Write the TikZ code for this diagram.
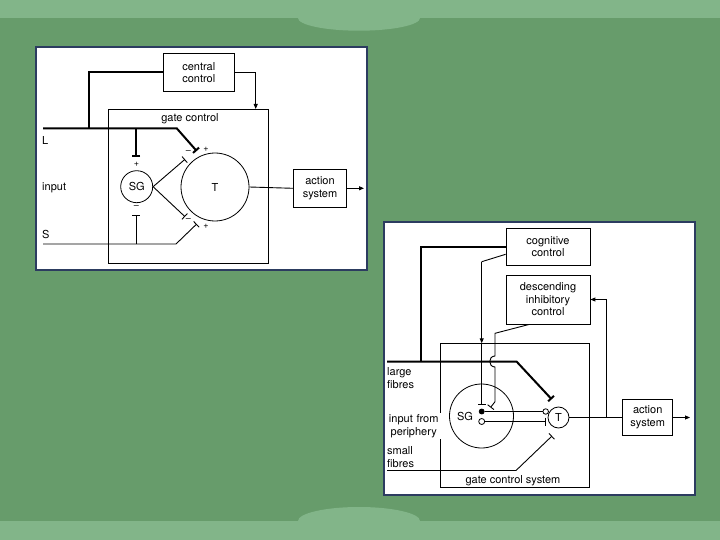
\documentclass[tikz,border=0pt]{standalone}
\usepackage{fontspec}
\setmainfont{TeX Gyre Heros}
\usetikzlibrary{arrows.meta,calc,positioning}
\definecolor{slidegreen}{RGB}{103,156,107}
\definecolor{bandgreen}{RGB}{130,181,137}
\definecolor{framenavy}{RGB}{44,60,96}

\begin{document}
\begin{tikzpicture}[x=1pt,y=-1pt,
    every node/.style={font=\fontsize{11}{12.5}\selectfont},
    box/.style={draw,line width=0.8pt,align=center,inner sep=0pt},
    ring/.style={draw,circle,line width=0.8pt,inner sep=0pt},
    thin line/.style={line width=0.9pt},
    thick line/.style={line width=2pt},
    inhib/.style={-{Bar[width=8pt]}},
    excite/.style={-{Triangle[length=5pt,width=4pt]}},
    sign/.style={font=\fontsize{9}{9}\selectfont,inner sep=0pt},
    label text/.style={align=left,anchor=west,inner sep=0pt}]
    % slide background
    \fill[slidegreen] (0,0) rectangle (720,540);
    \fill[bandgreen] (0,0) rectangle (720,18);
    \fill[bandgreen] (359,18) ellipse [x radius=61, y radius=12.7];
    \fill[bandgreen] (0,521) rectangle (720,540);
    \fill[bandgreen] (359,521) ellipse [x radius=61, y radius=14];
    \useasboundingbox (0,0) rectangle (720,540);
    % the two white panels
    \draw[framenavy,line width=2.5pt,fill=white] (36,47) rectangle (367,270);
    \draw[framenavy,line width=2.5pt,fill=white] (384,222) rectangle (695,495);

    % ---- first panel: gate control ----
    \node[box,minimum width=71pt,minimum height=38pt] (cc) at (198.8,72.5) {central\\control};
    \node[box,minimum width=160pt,minimum height=154pt] (gc) at (188.5,186) {};
    \node[inner sep=0pt] (gctitle) at (190,118.7) {gate control};
    \node[ring,minimum size=32pt] (sg) at (136.7,186.7) {SG};
    \node[ring,minimum size=68pt] (t) at (215,187) {T};
    \node[box,minimum width=53pt,minimum height=38pt] (as) at (320,188.3) {action\\system};
    % free ends of the fibres
    \coordinate (lin) at (43,128.3);
    \coordinate (lbend) at (176.7,128.3);
    \coordinate (lend) at (196.7,151);
    \coordinate (lup) at (89,128.3);
    \coordinate (ldown) at (136,128.3);
    \coordinate (ldownend) at (136,157);
    \coordinate (sin) at (43,244);
    \coordinate (sbend) at (176,244);
    \coordinate (send) at (196.7,224);
    \coordinate (sgfoot) at (136,244);
    \coordinate (sgfootend) at (136,215);
    \coordinate (sgtop) at (185,159.3);
    \coordinate (sgbot) at (185,216.7);
    \coordinate (gcin) at (255.7,109);
    \coordinate (asout) at (364,188.3);
    \draw[thick line,inhib] (lin) -- (lbend) -- (lend);
    \draw[thick line] (lup) |- (cc.west);
    \draw[thick line,inhib] (ldown) -- (ldownend);
    \draw[thin line,excite] (cc.east) -| (gcin);
    \draw[thin line,inhib] (sin) -- (sbend) -- (send);
    \draw[thin line,inhib] (sgfoot) -- (sgfootend);
    \draw[thin line,inhib] (sg.east) -- (sgtop);
    \draw[thin line,inhib] (sg.east) -- (sgbot);
    \draw[thin line] (t.east) -- (as.west);
    \draw[thin line,excite] (as.east) -- (asout);
    % label the inputs
    \node[label text] (lname) at (42,140) {L};
    \node[label text] (inname) at (42,187.7) {input};
    \node[label text] (sname) at (42,234) {S};
    % signs at the synapses
    \node[sign] (p1) at (206,149.3) {+};
    \node[sign] (m1) at (188.3,152.3) {--};
    \node[sign] (p2) at (136.5,164) {+};
    \node[sign] (m2) at (136.5,207.3) {--};
    \node[sign] (m3) at (188.3,220.5) {--};
    \node[sign] (p3) at (206,226.5) {+};

    % ---- second panel: gate control system ----
    \node[box,minimum width=84pt,minimum height=37pt] (cog) at (548,246.7) {cognitive\\control};
    \node[box,minimum width=84pt,minimum height=49pt] (desc) at (548,299.5) {descending\\inhibitory\\control};
    \node[box,minimum width=148.5pt,minimum height=144.4pt] (gcs) at (514.8,415.5) {};
    \node[inner sep=0pt] (gcstitle) at (513,480.7) {gate control system};
    \node[ring,minimum size=64pt] (sg2) at (481.5,416) {};
    \node[inner sep=0pt] (sgtext) at (465,416.5) {SG};
    \node[ring,minimum size=21pt] (t2) at (558.5,417.5) {T};
    \node[box,minimum width=50pt,minimum height=36pt] (as2) at (647.7,417.5) {action\\system};
    \node[ring,fill=black,minimum size=5pt] (bdot) at (481.7,411.5) {};
    \node[ring,fill=white,minimum size=6pt] (wdot) at (481.7,421.5) {};
    \node[ring,fill=white,minimum size=5.5pt] (tdot) at (545.7,411.5) {};
    % free ends and bends
    \coordinate (lfin) at (387,361.7);
    \coordinate (lfbend) at (516.7,361.7);
    \coordinate (lfend) at (551.7,399.3);
    \coordinate (lfup) at (421,361.7);
    \coordinate (sfin) at (387,470.5);
    \coordinate (sfbend) at (516,470.5);
    \coordinate (sfend) at (552,436);
    \coordinate (cogbend) at (481.7,261.7);
    \coordinate (gcsin) at (481.7,343.3);
    \coordinate (cogend) at (481.7,405);
    \coordinate (descbend) at (495,333.3);
    \coordinate (hoptop) at (495,356);
    \coordinate (hopbot) at (495,367);
    \coordinate (desclow) at (495,401.7);
    \coordinate (descend) at (490.5,407.5);
    \coordinate (wend) at (545.7,421.5);
    \coordinate (fb) at (606,417.5);
    \coordinate (as2out) at (690,417.5);
    \draw[thick line,inhib] (lfin) -- (lfbend) -- (lfend);
    \draw[thick line] (lfup) |- (cog.west);
    \draw[thin line,inhib] (sfin) -- (sfbend) -- (sfend);
    \draw[thin line] ([yshift=-7.6pt]cog.west) -- (cogbend);
    \draw[thin line,excite] (cogbend) -- (gcsin);
    \draw[thin line,inhib] (gcsin) -- (cogend);
    \draw[thin line,inhib] ([xshift=-18.7pt]desc.south) -- (descbend) -- (hoptop)
        .. controls (488,356) and (488,367) .. (hopbot) -- (desclow) -- (descend);
    \draw[line width=1.2pt] (bdot) -- (tdot);
    \draw[thin line,inhib] (wdot) -- (wend);
    \draw[thin line] (t2.east) -- (as2.west);
    \draw[thin line,excite] (fb) |- (desc.east);
    \draw[thin line,excite] (as2.east) -- (as2out);
    % label the fibres
    \node[label text,inner sep=1pt] (lflabel) at (386,378) {large\\fibres};
    \node[anchor=west,fill=white,inner xsep=0pt,inner ysep=1.5pt,text width=55pt,align=center] (inlabel) at (386,426) {input from\\periphery};
    \node[label text,inner sep=1pt] (sflabel) at (386,457) {small\\fibres};
\end{tikzpicture}
\end{document}
